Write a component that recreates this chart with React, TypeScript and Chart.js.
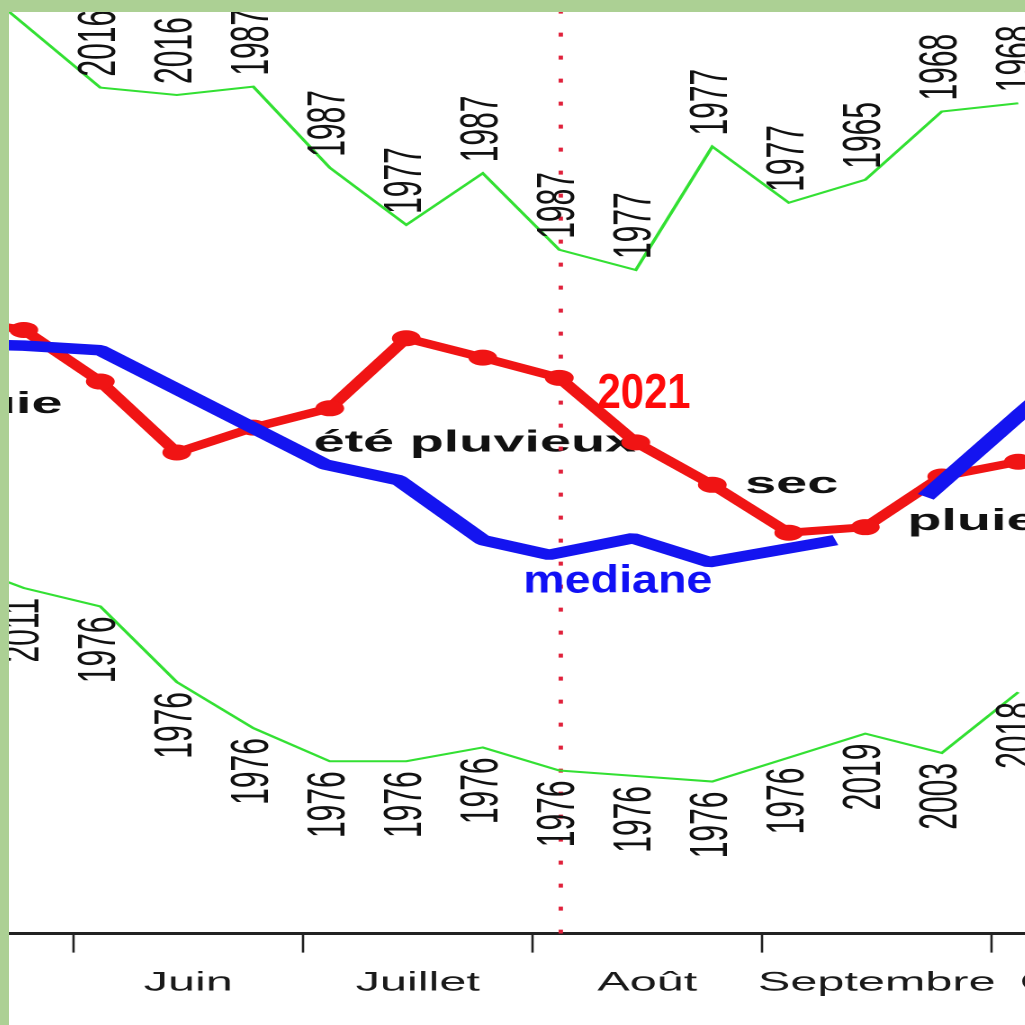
import React, { useEffect, useRef } from 'react';
import { Chart, registerables } from 'chart.js';

Chart.register(...registerables);

// ---- data (x in decades, 0 = 1st of June, 3 decades per month) ----
const decades = ['mai D2', 'mai D3', 'juin D1', 'juin D2', 'juin D3', 'juil D1', 'juil D2', 'juil D3', 'août D1', 'août D2', 'août D3', 'sept D1', 'sept D2', 'sept D3', 'oct D1'];
const decadeX = [-1.65, -0.65, 0.35, 1.35, 2.35, 3.35, 4.35, 5.35, 6.35, 7.35, 8.35, 9.35, 10.35, 11.35, 12.35];

const wetRecord = [105.6, 98.7, 91.8, 91.0, 91.9, 83.1, 76.9, 82.5, 74.2, 72.0, 85.4, 79.3, 81.8, 89.2, 90.1];
const wetRecordYears = ['', '', '2016', '2016', '1987', '1987', '1977', '1987', '1987', '1977', '1977', '1977', '1965', '1968', '1968'];

const dryRecord = [40.6, 37.5, 35.5, 27.3, 22.3, 18.7, 18.7, 20.2, 17.7, 17.1, 16.5, 19.1, 21.7, 19.6, 26.2];
const dryRecordYears = ['', '2011', '1976', '1976', '1976', '1976', '1976', '1976', '1976', '1976', '1976', '1976', '2019', '2003', '2018'];

const year2021 = [66.8, 65.5, 59.9, 52.2, 54.9, 57.0, 64.6, 62.5, 60.3, 53.3, 48.7, 43.5, 44.1, 49.6, 51.2];

const medianX = [-1.65, -0.65, 0.35, 3.29, 4.25, 5.35, 6.22, 7.31, 8.31, 9.96, 10.5, 11.14, 12.35, 13.25];
const median = [64.0, 63.8, 63.3, 50.9, 49.2, 42.7, 41.1, 42.9, 40.3, 42.7, null, 47.4, 56.2, 62.6];

const todayX = 6.37;

const monthTickValues = [-1.5, 0, 1.5, 3, 4.5, 6, 7.5, 9, 10.5, 12, 13.5];
const monthTickLabels = ['Mai', '', 'Juin', '', 'Juillet', '', 'Août', '', 'Septembre', '', 'Octobre'];

// ---- layout / style ----
const H_STRETCH = 1.8;
const FONT = "'Liberation Sans', Arial, Helvetica, sans-serif";
const CANVAS_W = 765;
const CANVAS_H = 1001;

const blackNotes = [
  { text: 'pluie', x: -0.144, y: 56.5, align: 'right' },
  { text: 'été pluvieux', x: 3.137, y: 52.3, align: 'left' },
  { text: 'sec', x: 8.78, y: 47.8, align: 'left' },
  { text: 'pluie', x: 10.9, y: 43.8, align: 'left' },
];
const colorNotes = [
  { text: '2021', x: 6.85, y: 57.05, size: 49, color: '#ff0a0a', pageWidth: 93 },
  { text: 'mediane', x: 5.88, y: 37.0, size: 38.5, color: '#1010f5', pageWidth: 189 },
];

const textPlugin = {
  id: 'chartTexts',
  beforeDatasetsDraw(chart: any) {
    const { ctx } = chart;
    const xs = chart.scales.x;
    const ys = chart.scales.y;
    ctx.save();
    ctx.fillStyle = '#111';
    ctx.font = `bold 31px ${FONT}`;
    ctx.textBaseline = 'alphabetic';
    for (const n of blackNotes) {
      ctx.textAlign = n.align;
      ctx.fillText(n.text, xs.getPixelForValue(n.x), ys.getPixelForValue(n.y));
    }
    ctx.restore();
  },
  afterDatasetsDraw(chart: any) {
    const { ctx } = chart;
    const xs = chart.scales.x;
    const ys = chart.scales.y;
    ctx.save();
    ctx.fillStyle = '#111';
    ctx.font = `30px ${FONT}`;
    ctx.textBaseline = 'middle';
    for (let i = 0; i < decadeX.length; i++) {
      const px = xs.getPixelForValue(decadeX[i]);
      if (wetRecordYears[i]) {
        ctx.save();
        ctx.translate(px, ys.getPixelForValue(wetRecord[i]) - 11);
        ctx.rotate(-Math.PI / 2);
        ctx.textAlign = 'left';
        ctx.fillText(wetRecordYears[i], 0, 0);
        ctx.restore();
      }
      if (dryRecordYears[i]) {
        ctx.save();
        ctx.translate(px, ys.getPixelForValue(dryRecord[i]) + 10);
        ctx.rotate(-Math.PI / 2);
        ctx.textAlign = 'right';
        ctx.fillText(dryRecordYears[i], 0, 0);
        ctx.restore();
      }
    }
    ctx.textBaseline = 'alphabetic';
    ctx.textAlign = 'left';
    for (const n of colorNotes) {
      ctx.font = `bold ${n.size}px ${FONT}`;
      ctx.fillStyle = n.color;
      const w = ctx.measureText(n.text).width;
      ctx.save();
      ctx.translate(xs.getPixelForValue(n.x), ys.getPixelForValue(n.y));
      ctx.scale(n.pageWidth / H_STRETCH / w, 1);
      ctx.fillText(n.text, 0, 0);
      ctx.restore();
    }
    ctx.restore();
  },
};

export default function App() {
  const canvasRef = useRef<HTMLCanvasElement | null>(null);

  useEffect(() => {
    if (!canvasRef.current) return;
    const chart = new Chart(canvasRef.current, {
      type: 'line',
      data: {
        labels: decades,
        datasets: [
          {
            label: 'médiane',
            data: medianX.map((x, i) => ({ x, y: median[i] })),
            borderColor: '#1414f0',
            borderWidth: 10.5,
            pointRadius: 0,
            spanGaps: false,
            borderJoinStyle: 'bevel',
            borderCapStyle: 'butt',
            order: 0,
          },
          {
            label: '2021',
            data: decadeX.map((x, i) => ({ x, y: year2021[i] })),
            borderColor: '#f01414',
            backgroundColor: '#f01414',
            borderWidth: 8,
            pointRadius: 8,
            pointBorderWidth: 0,
            pointBackgroundColor: '#f01414',
            borderJoinStyle: 'round',
            order: 1,
          },
          {
            label: 'record humide',
            data: decadeX.map((x, i) => ({ x, y: wetRecord[i] })),
            borderColor: '#33e033',
            borderWidth: 2,
            pointRadius: 0,
            order: 2,
          },
          {
            label: 'record sec',
            data: decadeX.map((x, i) => ({ x, y: dryRecord[i] })),
            borderColor: '#33e033',
            borderWidth: 2,
            pointRadius: 0,
            order: 2,
          },
          {
            label: 'aujourd’hui',
            data: [{ x: todayX, y: 0 }, { x: todayX, y: 100 }],
            borderColor: '#e0203a',
            borderWidth: 2.4,
            borderDash: [4, 19],
            pointRadius: 0,
            order: 3,
          },
        ],
      },
      options: {
        responsive: false,
        animation: false,
        devicePixelRatio: 2,
        layout: { padding: 0, autoPadding: false },
        plugins: { legend: { display: false }, tooltip: { enabled: false } },
        scales: {
          x: {
            type: 'linear',
            min: -3,
            max: 15,
            afterBuildTicks: (scale: any) => {
              scale.ticks = monthTickValues.map((v) => ({ value: v }));
            },
            grid: {
              display: true,
              drawOnChartArea: false,
              drawTicks: true,
              tickLength: 19,
              tickWidth: 1.3,
              tickColor: (c: any) => (c.tick && c.tick.value % 3 === 0 ? '#222' : 'rgba(0,0,0,0)'),
            },
            border: { display: true, color: '#222', width: 3 },
            ticks: {
              autoSkip: false,
              maxRotation: 0,
              minRotation: 0,
              padding: 14,
              color: '#1a1a1a',
              font: { family: FONT, size: 27 },
              callback: (_v: any, i: number) => monthTickLabels[i],
            },
          },
          y: { display: false, min: 0, max: 100 },
        },
      },
      plugins: [textPlugin],
    } as any);
    return () => chart.destroy();
  }, []);

  return (
    <div style={{ position: 'fixed', left: 0, top: 0, width: 1025, height: 1025, background: '#acd094', overflow: 'hidden' }}>
      <div style={{ position: 'absolute', left: 9, top: 12, width: 1016, height: 1013, background: '#ffffff', overflow: 'hidden' }}>
        <canvas
          ref={canvasRef}
          width={CANVAS_W}
          height={CANVAS_H}
          style={{
            position: 'absolute',
            left: -165.5,
            top: 0,
            width: CANVAS_W,
            height: CANVAS_H,
            transform: `scaleX(${H_STRETCH})`,
            transformOrigin: '0 0',
          }}
        />
      </div>
    </div>
  );
}
